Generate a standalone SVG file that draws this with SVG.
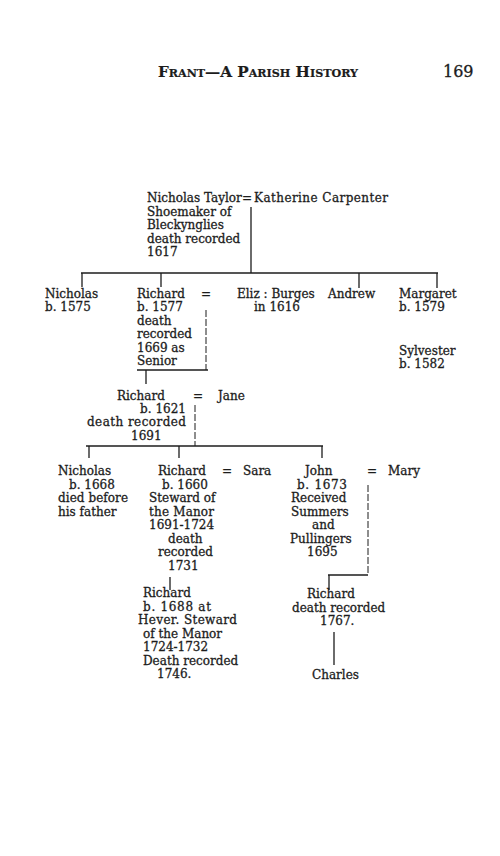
<svg xmlns="http://www.w3.org/2000/svg" width="500" height="856" viewBox="0 0 500 856">
<style>
text{font-family:"DejaVu Serif","Liberation Serif",serif;font-size:12px;fill:#1c1c1c;stroke:#1c1c1c;stroke-width:0.3}
.h{font-size:15px;font-variant:small-caps;font-weight:bold;stroke-width:0.2}
line{stroke:#1c1c1c;stroke-width:1.3;fill:none}
.d{stroke-dasharray:7 2;stroke-width:1}
</style>
<rect width="500" height="856" fill="#fff"/>
<g id="header">
<text class="h" x="158" y="77" textLength="200" lengthAdjust="spacingAndGlyphs">Frant—A Parish History</text>
<text x="443" y="77" style="font-size:16px">169</text>
</g>
<g id="connectors">
<line x1="251" y1="207" x2="251" y2="273"/>
<line x1="81" y1="273" x2="438" y2="273"/>
<line x1="82" y1="273" x2="82" y2="287"/>
<line x1="161" y1="273" x2="161" y2="287"/>
<line x1="359" y1="273" x2="359" y2="288"/>
<line x1="437" y1="273" x2="437" y2="288"/>
<line class="d" x1="206" y1="310" x2="206" y2="370"/>
<line x1="137" y1="370" x2="208" y2="370"/>
<line x1="146" y1="370" x2="146" y2="384"/>
<line class="d" x1="195" y1="405" x2="195" y2="446"/>
<line x1="86" y1="446" x2="323" y2="446"/>
<line x1="89" y1="446" x2="89" y2="458"/>
<line x1="179" y1="446" x2="179" y2="458"/>
<line x1="322" y1="446" x2="322" y2="458"/>
<line x1="170" y1="577" x2="170" y2="590"/>
<line class="d" x1="368" y1="485" x2="368" y2="575"/>
<line x1="328" y1="575" x2="368" y2="575"/>
<line x1="329" y1="575" x2="329" y2="590"/>
<line x1="334" y1="632" x2="334" y2="665"/>
</g>
<g id="nicholas-taylor">
<text x="147" y="202">Nicholas Taylor</text>
<text x="242" y="202">=</text>
<text x="147" y="216">Shoemaker of</text>
<text x="147" y="229">Bleckynglies</text>
<text x="147" y="243">death recorded</text>
<text x="147" y="256">1617</text>
</g>
<g id="katherine-carpenter"><text x="254" y="202" textLength="134">Katherine Carpenter</text></g>
<g id="nicholas-1575">
<text x="45" y="298">Nicholas</text>
<text x="45" y="311">b. 1575</text>
</g>
<g id="richard-1577">
<text x="137" y="298">Richard</text>
<text x="201" y="298">=</text>
<text x="137" y="311">b. 1577</text>
<text x="137" y="325">death</text>
<text x="137" y="338">recorded</text>
<text x="137" y="352">1669 as</text>
<text x="137" y="365">Senior</text>
</g>
<g id="eliz-burges">
<text x="237" y="298">Eliz : Burges</text>
<text x="254" y="311">in 1616</text>
</g>
<g id="andrew"><text x="328" y="298">Andrew</text></g>
<g id="margaret">
<text x="399" y="298">Margaret</text>
<text x="399" y="311">b. 1579</text>
</g>
<g id="sylvester">
<text x="399" y="355">Sylvester</text>
<text x="399" y="368">b. 1582</text>
</g>
<g id="richard-1621">
<text x="117" y="400">Richard</text>
<text x="193" y="400">=</text>
<text x="140" y="413" textLength="46">b. 1621</text>
<text x="87" y="426" textLength="99">death recorded</text>
<text x="131" y="440">1691</text>
</g>
<g id="jane"><text x="218" y="400">Jane</text></g>
<g id="nicholas-1668">
<text x="58" y="475">Nicholas</text>
<text x="69" y="489">b. 1668</text>
<text x="58" y="502" textLength="70">died before</text>
<text x="58" y="516">his father</text>
</g>
<g id="richard-1660">
<text x="158" y="475">Richard</text>
<text x="222" y="475">=</text>
<text x="162" y="489">b. 1660</text>
<text x="149" y="502">Steward of</text>
<text x="149" y="516" textLength="65">the Manor</text>
<text x="149" y="529">1691-1724</text>
<text x="168" y="543">death</text>
<text x="158" y="556">recorded</text>
<text x="168" y="570">1731</text>
</g>
<g id="sara"><text x="243" y="475">Sara</text></g>
<g id="john-1673">
<text x="305" y="475">John</text>
<text x="367" y="475">=</text>
<text x="297" y="489" textLength="50">b. 1673</text>
<text x="291" y="502">Received</text>
<text x="291" y="516">Summers</text>
<text x="312" y="529">and</text>
<text x="290" y="543">Pullingers</text>
<text x="307" y="556">1695</text>
</g>
<g id="mary"><text x="388" y="475">Mary</text></g>
<g id="richard-1688">
<text x="143" y="597">Richard</text>
<text x="143" y="611" textLength="68">b. 1688 at</text>
<text x="138" y="624" textLength="99">Hever. Steward</text>
<text x="143" y="638">of the Manor</text>
<text x="143" y="651">1724-1732</text>
<text x="143" y="665">Death recorded</text>
<text x="157" y="678">1746.</text>
</g>
<g id="richard-1767">
<text x="307" y="598">Richard</text>
<text x="292" y="612">death recorded</text>
<text x="320" y="625">1767.</text>
</g>
<g id="charles"><text x="312" y="679">Charles</text></g>
</svg>
